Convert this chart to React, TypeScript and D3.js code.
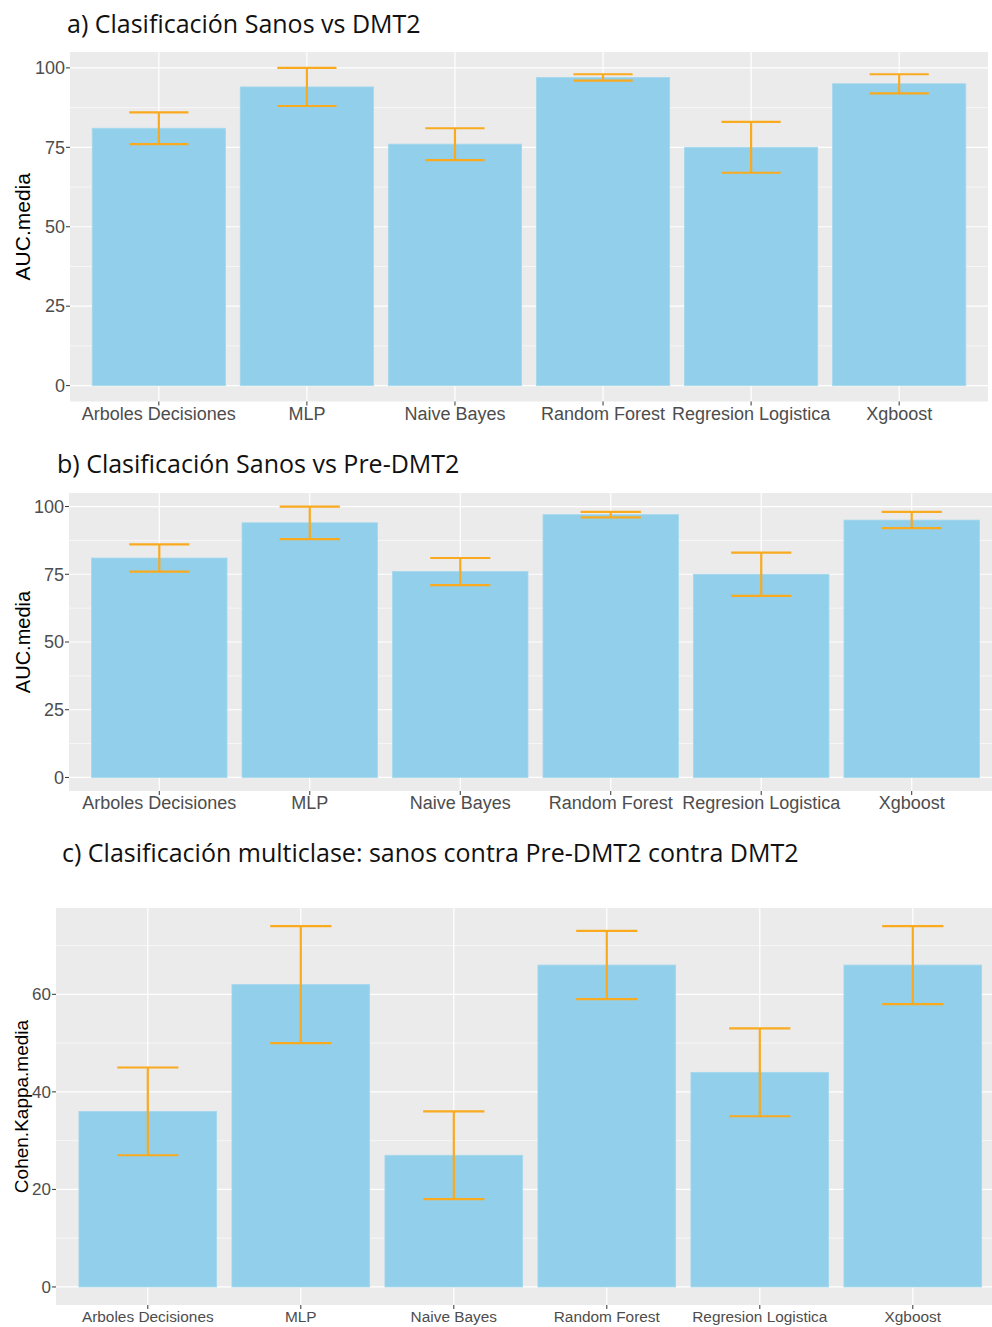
import React from "react";
import * as d3 from "d3";

// Model names shared by all three panels
const models = [
  "Arboles Decisiones",
  "MLP",
  "Naive Bayes",
  "Random Forest",
  "Regresion Logistica",
  "Xgboost",
];

// a) Sanos vs DMT2 — mean AUC with lower / upper bounds
const aucDmt2Mean = [81, 94, 76, 97, 75, 95];
const aucDmt2Low = [76, 88, 71, 96, 67, 92];
const aucDmt2High = [86, 100, 81, 98, 83, 98];

// b) Sanos vs Pre-DMT2
const aucPreMean = [81, 94, 76, 97, 75, 95];
const aucPreLow = [76, 88, 71, 96, 67, 92];
const aucPreHigh = [86, 100, 81, 98, 83, 98];

// c) multiclass — mean Cohen's kappa
const kappaMean = [36, 62, 27, 66, 44, 66];
const kappaLow = [27, 50, 18, 59, 35, 58];
const kappaHigh = [45, 74, 36, 73, 53, 74];

const aucTicks = [0, 25, 50, 75, 100];
const aucMinor = [12.5, 37.5, 62.5, 87.5];
const kappaTicks = [0, 20, 40, 60];
const kappaMinor = [10, 30, 50, 70];

const BAR = "#91CFEA";
const ERR = "#F9AA1E";
const PANEL_BG = "#EBEBEB";

type PanelProps = {
  title: string;
  titleX: number;
  titleY: number;
  yLabel: string;
  mean: number[];
  low: number[];
  high: number[];
  ticks: number[];
  minor: number[];
  domain: [number, number];
  left: number;
  right: number;
  top: number;
  bottom: number;
  tickFont: number;
  xFont: number;
  xBaseline: number;
  yLabelFont: number;
  yLabelX: number;
};

function Panel(p: PanelProps) {
  const x = d3
    .scaleBand<string>()
    .domain(models)
    .range([p.left, p.right])
    .paddingInner(0.1)
    .paddingOuter(0.15);
  const y = d3.scaleLinear().domain(p.domain).range([p.bottom, p.top]);
  const step = x.step();
  const errW = step * 0.4;
  const cx = (m: string) => (x(m) as number) + x.bandwidth() / 2;

  return (
    <g>
      <text
        x={p.titleX}
        y={p.titleY}
        fontFamily="'Open Sans', sans-serif"
        fontSize={25}
        fill="#111"
      >
        {p.title}
      </text>
      <rect
        x={p.left}
        y={p.top}
        width={p.right - p.left}
        height={p.bottom - p.top}
        fill={PANEL_BG}
      />
      {p.minor.map((v) => (
        <line
          key={"mn" + v}
          x1={p.left}
          x2={p.right}
          y1={y(v)}
          y2={y(v)}
          stroke="#fff"
          strokeWidth={0.6}
        />
      ))}
      {p.ticks.map((v) => (
        <line
          key={"mj" + v}
          x1={p.left}
          x2={p.right}
          y1={y(v)}
          y2={y(v)}
          stroke="#fff"
          strokeWidth={1.2}
        />
      ))}
      {models.map((m) => (
        <line
          key={"vg" + m}
          x1={cx(m)}
          x2={cx(m)}
          y1={p.top}
          y2={p.bottom}
          stroke="#fff"
          strokeWidth={1.2}
        />
      ))}
      {models.map((m, i) => (
        <rect
          key={"bar" + m}
          x={x(m)}
          y={y(p.mean[i])}
          width={x.bandwidth()}
          height={y(0) - y(p.mean[i])}
          fill={BAR}
          stroke="#A4D8EE"
          strokeWidth={0.8}
        />
      ))}
      {models.map((m, i) => {
        const c = cx(m);
        return (
          <g key={"err" + m} stroke={ERR} strokeWidth={2.2} fill="none">
            <line x1={c} x2={c} y1={y(p.high[i])} y2={y(p.low[i])} />
            <line
              x1={c - errW / 2}
              x2={c + errW / 2}
              y1={y(p.high[i])}
              y2={y(p.high[i])}
            />
            <line
              x1={c - errW / 2}
              x2={c + errW / 2}
              y1={y(p.low[i])}
              y2={y(p.low[i])}
            />
          </g>
        );
      })}
      {/* y axis */}
      {p.ticks.map((v) => (
        <g key={"yt" + v}>
          <line
            x1={p.left - 4}
            x2={p.left}
            y1={y(v)}
            y2={y(v)}
            stroke="#333"
            strokeWidth={1}
          />
          <text
            x={p.left - 5}
            y={y(v)}
            dy="0.35em"
            textAnchor="end"
            fontFamily="'Liberation Sans', Arial, sans-serif"
            fontSize={p.tickFont}
            fill="#4D4D4D"
          >
            {v}
          </text>
        </g>
      ))}
      {/* x axis */}
      {models.map((m) => (
        <g key={"xt" + m}>
          <line
            x1={cx(m)}
            x2={cx(m)}
            y1={p.bottom}
            y2={p.bottom + 4}
            stroke="#333"
            strokeWidth={1}
          />
          <text
            x={cx(m)}
            y={p.xBaseline}
            textAnchor="middle"
            fontFamily="'Liberation Sans', Arial, sans-serif"
            fontSize={p.xFont}
            fill="#4D4D4D"
          >
            {m}
          </text>
        </g>
      ))}
      <text
        transform={`translate(${p.yLabelX},${(p.top + p.bottom) / 2}) rotate(-90)`}
        textAnchor="middle"
        fontFamily="'Liberation Sans', Arial, sans-serif"
        fontSize={p.yLabelFont}
        fill="#000"
      >
        {p.yLabel}
      </text>
    </g>
  );
}

export default function App() {
  return (
    <svg
      width={992}
      height={1327}
      style={{ position: "absolute", left: 0, top: 0, display: "block", background: "#fff" }}
    >
      <Panel
        title="a) Clasificación Sanos vs DMT2"
        titleX={67}
        titleY={33}
        yLabel="AUC.media"
        mean={aucDmt2Mean}
        low={aucDmt2Low}
        high={aucDmt2High}
        ticks={aucTicks}
        minor={aucMinor}
        domain={[-5, 105]}
        left={70}
        right={988}
        top={52}
        bottom={401.5}
        tickFont={18}
        xFont={18}
        xBaseline={420}
        yLabelFont={21}
        yLabelX={30}
      />
      <Panel
        title="b) Clasificación Sanos vs Pre-DMT2"
        titleX={57}
        titleY={473}
        yLabel="AUC.media"
        mean={aucPreMean}
        low={aucPreLow}
        high={aucPreHigh}
        ticks={aucTicks}
        minor={aucMinor}
        domain={[-5, 105]}
        left={69}
        right={1002}
        top={493}
        bottom={791}
        tickFont={18}
        xFont={18}
        xBaseline={809}
        yLabelFont={20}
        yLabelX={30}
      />
      <Panel
        title="c) Clasificación multiclase: sanos contra Pre-DMT2 contra DMT2"
        titleX={62}
        titleY={862}
        yLabel="Cohen.Kappa.media"
        mean={kappaMean}
        low={kappaLow}
        high={kappaHigh}
        ticks={kappaTicks}
        minor={kappaMinor}
        domain={[-3.7, 77.7]}
        left={56}
        right={1004.6}
        top={908}
        bottom={1305}
        tickFont={17}
        xFont={15.4}
        xBaseline={1322}
        yLabelFont={19}
        yLabelX={28}
      />
    </svg>
  );
}
